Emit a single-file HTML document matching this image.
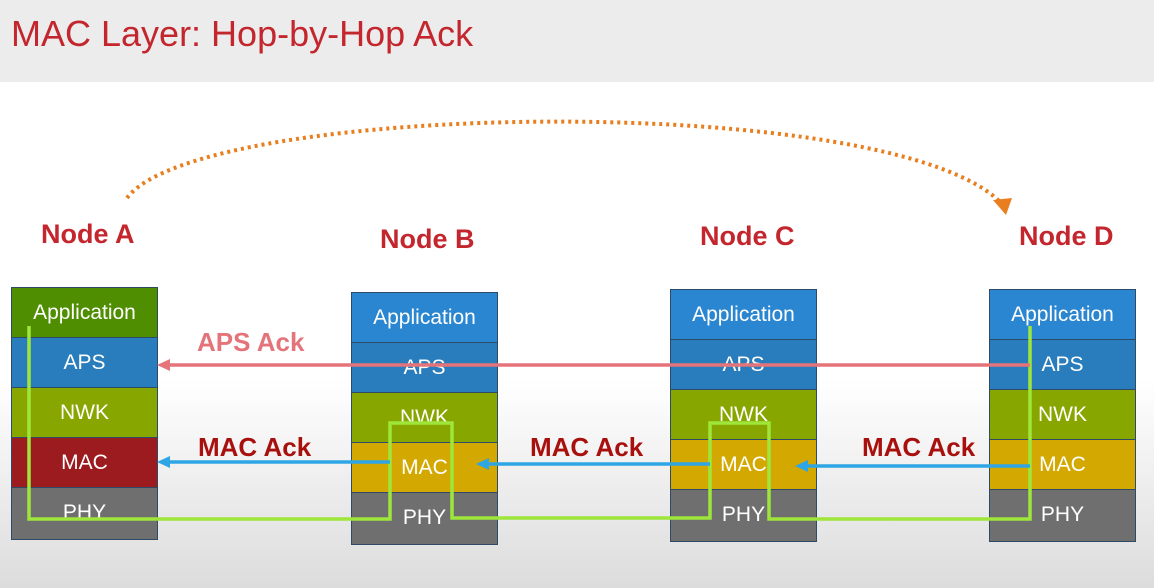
<!DOCTYPE html>
<html><head><style>
body{margin:0;width:1154px;height:588px;overflow:hidden;font-family:"Liberation Sans",sans-serif;background:linear-gradient(#fff 0,#fff 380px,#dcdcdc 588px);position:relative}
.title{position:absolute;left:0;top:0;width:1154px;height:82px;background:#ececec}
.title span{position:absolute;left:11px;top:13px;font-size:36px;color:#c4262e}
.st{position:absolute;width:145px;border:1px solid #2d4a66}
.st div{height:50px;line-height:50px;text-align:center;color:#fff;font-size:21px;border-bottom:1px solid #2d4a66;box-sizing:border-box}
.st div:last-child{border-bottom:none;height:51px}
.ap{background:#2a86d0}.aps{background:#2a7dbc}.nwk{background:#88a600}.mac{background:#d3a800}.phy{background:#6f6f6f}
.nl{position:absolute;font-weight:bold;font-size:27px;color:#c4262e}
.lbl{position:absolute;font-weight:bold;font-size:26px}
</style></head><body>
<div class="title"><span>MAC Layer: Hop-by-Hop Ack</span></div>
<div class="nl" style="left:41px;top:219px">Node A</div>
<div class="nl" style="left:380px;top:224px">Node B</div>
<div class="nl" style="left:700px;top:221px">Node C</div>
<div class="nl" style="left:1019px;top:221px">Node D</div>
<div class="st" style="left:11px;top:287px"><div style="background:#4e8e00">Application</div><div class="aps">APS</div><div class="nwk">NWK</div><div style="background:#9c1b1f">MAC</div><div class="phy">PHY</div></div>
<div class="st" style="left:351px;top:292px"><div class="ap">Application</div><div class="aps">APS</div><div class="nwk">NWK</div><div class="mac">MAC</div><div class="phy">PHY</div></div>
<div class="st" style="left:670px;top:289px"><div class="ap">Application</div><div class="aps">APS</div><div class="nwk">NWK</div><div class="mac">MAC</div><div class="phy">PHY</div></div>
<div class="st" style="left:989px;top:289px"><div class="ap">Application</div><div class="aps">APS</div><div class="nwk">NWK</div><div class="mac">MAC</div><div class="phy">PHY</div></div>
<div class="lbl" style="left:197px;top:327px;color:#e4747a">APS Ack</div>
<div class="lbl" style="left:198px;top:432px;color:#a8100e">MAC Ack</div>
<div class="lbl" style="left:530px;top:432px;color:#a8100e">MAC Ack</div>
<div class="lbl" style="left:862px;top:432px;color:#a8100e">MAC Ack</div>
<svg width="1154" height="588" style="position:absolute;left:0;top:0">
<path d="M127 198 C 200 100, 900 90, 1003 205" fill="none" stroke="#e87e1e" stroke-width="4" stroke-dasharray="3 4"/>
<polygon points="993,200 1012,198 1006,215" fill="#e87e1e"/>
<polyline points="29,326 29,519 390,519 390,423 452,423 452,518 710,518 710,423 769,423 769,519 1030,519 1030,326" fill="none" stroke="#9ee63a" stroke-width="3.5"/>
<line x1="1030" y1="365" x2="165" y2="365" stroke="#e4747a" stroke-width="3.5"/>
<polygon points="157,365 170,359 170,371" fill="#e4747a"/>
<g stroke="#2ea6e6" stroke-width="3.5">
<line x1="390" y1="462" x2="165" y2="462"/><line x1="710" y1="464" x2="484" y2="464"/><line x1="1030" y1="466" x2="803" y2="466"/></g>
<g fill="#2ea6e6"><polygon points="157,462 170,456 170,468"/><polygon points="476,464 489,458 489,470"/><polygon points="795,466 808,460 808,472"/></g>
</svg>
</body></html>
